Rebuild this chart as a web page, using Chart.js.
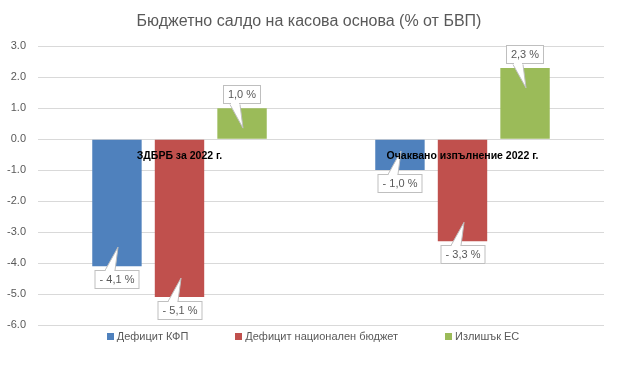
<!DOCTYPE html>
<html>
<head>
<meta charset="utf-8">
<script src="https://cdn.jsdelivr.net/npm/chart.js@4"></script>
<style>
  html, body { margin: 0; padding: 0; background: #fff; }
  #wrap { width: 618px; height: 369px; }
</style>
</head>
<body>
<div id="wrap"><canvas id="chart"></canvas></div>
<script>
// budget balance chart
const categories = ["ЗДБРБ за 2022 г.", "Очаквано изпълнение 2022 г."];
const seriesNames = ["Дефицит КФП", "Дефицит национален бюджет", "Излишък ЕС"];
const kfpDeficit = [-4.1, -1.0];
const nationalDeficit = [-5.1, -3.3];
const euSurplus = [1.0, 2.3];
const yTicks = [3, 2, 1, 0, -1, -2, -3, -4, -5, -6];

const COLORS = ["#4F81BD", "#C0504D", "#9BBB59"];
const GRAY_TEXT = "#595959";
const FONT = "'Liberation Sans', Arial, sans-serif";

function fmtLabel(v) {
  const s = Math.abs(v).toFixed(1).replace(".", ",") + " %";
  return v < 0 ? "- " + s : s;
}

// Excel-style callout boxes with a little tail pointing into the bar
const calloutPlugin = {
  id: "callouts",
  afterDatasetsDraw(chart) {
    const ctx = chart.ctx;
    ctx.save();
    ctx.font = "11px " + FONT;
    ctx.textAlign = "center";
    ctx.textBaseline = "middle";
    chart.data.datasets.forEach((ds, di) => {
      const meta = chart.getDatasetMeta(di);
      meta.data.forEach((bar, i) => {
        const v = ds.data[i];
        const text = fmtLabel(v);
        const w = Math.round(ctx.measureText(text).width + 10);
        const h = 19;
        const cx = Math.round(bar.x);
        const neg = v < 0;
        const left = cx - w / 2;
        const top = neg ? Math.round(bar.y) + 4 : Math.round(bar.y) - 4 - h;
        const edgeY = neg ? top : top + h;
        const tipY = neg ? bar.y - 19 : bar.y + 20;

        ctx.fillStyle = "#fff";
        ctx.strokeStyle = "#bfbfbf";
        ctx.lineWidth = 1;
        ctx.fillRect(left, top, w, h);
        ctx.strokeRect(left + 0.5, top + 0.5, w - 1, h - 1);

        // tail
        ctx.beginPath();
        ctx.moveTo(cx - 12, edgeY + 0.5);
        ctx.lineTo(cx + 1, tipY);
        ctx.lineTo(cx - 2, edgeY + 0.5);
        ctx.closePath();
        ctx.fill();
        ctx.beginPath();
        ctx.moveTo(cx - 12, edgeY + 0.5);
        ctx.lineTo(cx + 1, tipY);
        ctx.lineTo(cx - 2, edgeY + 0.5);
        ctx.stroke();
        ctx.fillRect(cx - 11, edgeY - 1, 8, 3);

        ctx.fillStyle = GRAY_TEXT;
        ctx.fillText(text, cx, top + h / 2 + 0.5);
      });
    });
    ctx.restore();
  }
};

// legend drawn by hand so the spacing matches the original
const legendPlugin = {
  id: "flatLegend",
  afterDraw(chart) {
    const ctx = chart.ctx;
    ctx.save();
    ctx.font = "11px " + FONT;
    ctx.textBaseline = "middle";
    const box = 7, gap = 3, between = 47;
    const widths = chart.data.datasets.map(ds => box + gap + ctx.measureText(ds.label).width);
    const total = widths.reduce((a, b) => a + b, 0) + between * (widths.length - 1);
    let x = chart.width / 2 + 4 - total / 2;
    const y = 336;
    chart.data.datasets.forEach((ds, i) => {
      ctx.fillStyle = ds.backgroundColor;
      ctx.fillRect(Math.round(x), y - 3, box, box);
      ctx.fillStyle = GRAY_TEXT;
      ctx.fillText(ds.label, x + box + gap, y + 1);
      x += widths[i] + between;
    });
    ctx.restore();
  }
};

const seriesValues = [kfpDeficit, nationalDeficit, euSurplus];

new Chart(document.getElementById("chart"), {
  type: "bar",
  data: {
    labels: categories,
    datasets: seriesNames.map((name, i) => ({
      label: name,
      data: seriesValues[i],
      backgroundColor: COLORS[i],
      borderWidth: 0,
      categoryPercentage: 0.663,
      barPercentage: 0.79
    }))
  },
  options: {
    responsive: true,
    maintainAspectRatio: false,
    animation: false,
    devicePixelRatio: 1,
    layout: { padding: { left: 0, right: 0, top: 0, bottom: 44 } },
    plugins: {
      legend: { display: false },
      tooltip: { enabled: false },
      title: {
        display: true,
        text: "Бюджетно салдо на касова основа (% от БВП)",
        color: GRAY_TEXT,
        font: { family: FONT, size: 16, weight: "normal" },
        padding: { top: 12, bottom: 15 }
      }
    },
    scales: {
      x: {
        position: { y: 0 },
        grid: { display: false },
        border: { display: false },
        ticks: {
          z: 1,
          color: "#000",
          padding: 3,
          maxRotation: 0,
          font: { family: FONT, size: 10.5, weight: "bold" }
        }
      },
      y: {
        min: Math.min(...yTicks),
        max: Math.max(...yTicks),
        afterFit(scale) { scale.width = 38; },
        afterBuildTicks(scale) { scale.ticks = yTicks.map(v => ({ value: v })); },
        grid: { color: "#d9d9d9", drawTicks: false },
        border: { display: false },
        ticks: {
          color: GRAY_TEXT,
          padding: 12,
          font: { family: FONT, size: 11 },
          callback: v => v.toFixed(1)
        }
      },
      // empty right-hand axis, only keeps a margin so the title stays centred on the canvas
      yRight: {
        position: "right",
        min: Math.min(...yTicks),
        max: Math.max(...yTicks),
        afterFit(scale) { scale.width = 14; },
        grid: { display: false },
        border: { display: false },
        ticks: { display: false }
      }
    }
  },
  plugins: [calloutPlugin, legendPlugin]
});
</script>
</body>
</html>
